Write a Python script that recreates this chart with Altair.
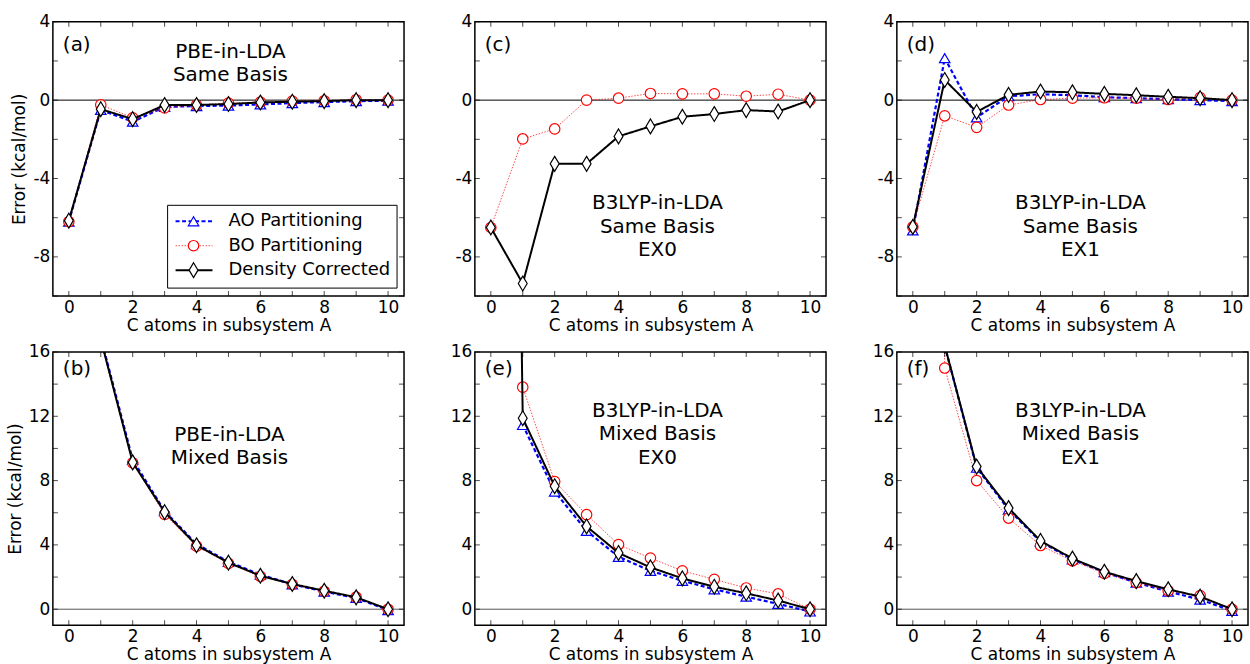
import altair as alt
import pandas as pd

FONT = "DejaVu Sans"
X_ATOMS = list(range(11))
X_LABELS = [0, 2, 4, 6, 8, 10]
TOP_LABELS = [-8, -4, 0, 4]
TOP_TICKS = [-10, -8, -6, -4, -2, 0, 2, 4]
BOT_LABELS = [0, 4, 8, 12, 16]
BOT_TICKS = [0, 2, 4, 6, 8, 10, 12, 14, 16]
SERIES = ["AO Partitioning", "BO Partitioning", "Density Corrected"]

# (a) PBE-in-LDA, same basis
A_AO = [-6.2, -0.5, -1.1, -0.35, -0.3, -0.28, -0.22, -0.15, -0.1, -0.05, -0.03]
A_BO = [-6.2, -0.24, -0.9, -0.4, -0.25, -0.15, -0.1, -0.05, -0.03, 0.02, 0.0]
A_DC = [-6.15, -0.46, -0.97, -0.25, -0.25, -0.2, -0.12, -0.08, -0.05, 0.0, 0.0]
# (c) B3LYP-in-LDA, same basis, EX0
C_AO = [None] * 11
C_BO = [-6.5, -1.98, -1.47, 0.0, 0.1, 0.34, 0.32, 0.32, 0.2, 0.3, 0.0]
C_DC = [-6.5, -9.36, -3.25, -3.25, -1.85, -1.34, -0.85, -0.71, -0.51, -0.58, 0.0]
# (d) B3LYP-in-LDA, same basis, EX1
D_AO = [-6.65, 2.14, -0.88, 0.2, 0.3, 0.25, 0.15, 0.1, 0.05, 0.0, -0.05]
D_BO = [-6.47, -0.8, -1.39, -0.25, 0.03, 0.1, 0.12, 0.1, 0.03, 0.13, 0.0]
D_DC = [-6.47, 1.03, -0.6, 0.27, 0.44, 0.4, 0.32, 0.25, 0.17, 0.1, 0.0]
# (b) PBE-in-LDA, mixed basis
B_AO = [None, 16.9, 9.3, 6.1, 4.05, 2.95, 2.15, 1.55, 1.1, 0.7, -0.05]
B_BO = [None, 16.7, 9.1, 5.9, 3.92, 2.85, 2.05, 1.55, 1.12, 0.75, 0.0]
B_DC = [None, 16.8, 9.13, 6.04, 3.98, 2.9, 2.08, 1.57, 1.15, 0.74, 0.0]
# (e) B3LYP-in-LDA, mixed basis, EX0
E_AO = [None, 11.46, 7.32, 4.87, 3.26, 2.39, 1.77, 1.24, 0.78, 0.33, -0.14]
E_BO = [None, 13.81, 7.94, 5.88, 4.02, 3.18, 2.39, 1.86, 1.32, 0.95, 0.0]
E_DC = [150, 11.88, 7.65, 5.15, 3.5, 2.6, 1.92, 1.4, 0.99, 0.54, 0.0]
# (f) B3LYP-in-LDA, mixed basis, EX1
F_AO = [None, 16.4, 8.8, 6.2, 4.2, 3.1, 2.3, 1.65, 1.1, 0.6, -0.1]
F_BO = [150, 15.0, 8.0, 5.67, 3.96, 3.01, 2.23, 1.65, 1.15, 0.85, 0.0]
F_DC = [None, 16.4, 8.87, 6.29, 4.25, 3.15, 2.33, 1.75, 1.24, 0.78, 0.0]

W, H_TOP, H_BOT = 352, 275, 274

DIAMOND = "M0,-1L0.6,0L0,1L-0.6,0Z"
STYLE = {
    "AO Partitioning": dict(color="#0000ff", width=2.2, dash=[4, 2.5], opacity=1.0,
                            shape="triangle-up", size=110, fill="white", mw=1.2),
    "BO Partitioning": dict(color="#ff0000", width=1.0, dash=[1.5, 1.5], opacity=0.7,
                            shape="circle", size=110, fill="white", mw=1.2),
    "Density Corrected": dict(color="#000000", width=2.0, dash=[1, 0], opacity=1.0,
                              shape=DIAMOND, size=220, fill="white", mw=1.2),
}

lines_x = {"a": 178, "b": 177, "c": 183, "d": 184, "e": 183, "f": 184}


def panel(letter, series_vals, ydom, ylabels, yticks, lines, text_y0, label_y,
          ytitle, height, legend=False, zero_color="black"):
    rows = []
    for name, vals in zip(SERIES, series_vals):
        for xi, v in zip(X_ATOMS, vals):
            if v is not None:
                rows.append({"x": xi, "y": v, "s": name})
    df = pd.DataFrame(rows)
    xscale = alt.Scale(domain=[-0.5, 10.5], nice=False, zero=False)
    yscale = alt.Scale(domain=ydom, nice=False, zero=False)
    xaxis = alt.Axis(values=X_LABELS, title="C atoms in subsystem A",
                     labelExpr="toString(datum.value)")
    yaxis = alt.Axis(values=ylabels, title=ytitle,
                     labelExpr="toString(datum.value)")
    X = alt.X("x:Q", scale=xscale, axis=xaxis)
    Y = alt.Y("y:Q", scale=yscale, axis=yaxis)

    layers = []
    layers.append(alt.Chart(pd.DataFrame({"y": [0]})).mark_rule(
        color=zero_color, strokeWidth=1).encode(y=Y))
    for name in SERIES:
        st = STYLE[name]
        sub = df[df["s"] == name]
        if sub.empty:
            continue
        base = alt.Chart(sub)
        layers.append(base.mark_line(clip=True, color=st["color"], strokeWidth=st["width"],
                                     strokeDash=st["dash"], opacity=st["opacity"]).encode(x=X, y=Y))
        layers.append(base.mark_point(clip=True, shape=st["shape"], size=st["size"], filled=True,
                                      fill=st["fill"], stroke=st["color"], strokeWidth=st["mw"],
                                      opacity=1).encode(x=X, y=Y))
    # inward ticks on all four sides
    xt = alt.Chart(pd.DataFrame({"x": X_ATOMS}))
    yt = alt.Chart(pd.DataFrame({"y": yticks}))
    layers.append(xt.mark_tick(orient="vertical", size=5, thickness=1, color="black").encode(
        x=X, y=alt.value(2.5)))
    layers.append(xt.mark_tick(orient="vertical", size=5, thickness=1, color="black").encode(
        x=X, y=alt.value(height - 2.5)))
    layers.append(yt.mark_tick(orient="horizontal", size=5, thickness=1, color="black").encode(
        y=Y, x=alt.value(2.5)))
    layers.append(yt.mark_tick(orient="horizontal", size=5, thickness=1, color="black").encode(
        y=Y, x=alt.value(W - 2.5)))
    one = alt.Chart(pd.DataFrame({"k": [0]}))
    layers.append(one.mark_text(text=f"({letter})", font=FONT, fontSize=20, align="left",
                                baseline="middle", color="black").encode(
        x=alt.value(10), y=alt.value(label_y)))
    for i, t in enumerate(lines):
        layers.append(one.mark_text(text=t, font=FONT, fontSize=20, align="center",
                                    baseline="middle", color="black").encode(
            x=alt.value(lines_x[letter]), y=alt.value(text_y0 + 23.5 * i)))
    if legend:
        layers.append(one.mark_rect(fill="white", stroke="black", strokeWidth=1).encode(
            x=alt.value(115), x2=alt.value(345), y=alt.value(184), y2=alt.value(267)))
        for i, name in enumerate(SERIES):
            st = STYLE[name]
            yy = 200 + 24.5 * i
            layers.append(one.mark_rule(color=st["color"], strokeWidth=st["width"],
                                        strokeDash=st["dash"], opacity=st["opacity"]).encode(
                x=alt.value(123), x2=alt.value(160), y=alt.value(yy)))
            layers.append(one.mark_point(shape=st["shape"], size=st["size"], filled=True,
                                         fill=st["fill"], stroke=st["color"], strokeWidth=st["mw"],
                                         opacity=1).encode(x=alt.value(141), y=alt.value(yy)))
            layers.append(one.mark_text(text=name, font=FONT, fontSize=18, align="left",
                                        baseline="middle", color="black").encode(
                x=alt.value(176), y=alt.value(yy)))
    return alt.layer(*layers).properties(width=W, height=height)


pa = panel("a", [A_AO, A_BO, A_DC], [-10, 4], TOP_LABELS, TOP_TICKS,
           ["PBE-in-LDA", "Same Basis"], 30, 23, "Error (kcal/mol)", H_TOP, legend=True)
pc = panel("c", [C_AO, C_BO, C_DC], [-10, 4], TOP_LABELS, TOP_TICKS,
           ["B3LYP-in-LDA", "Same Basis", "EX0"], 182, 23, None, H_TOP)
pd_ = panel("d", [D_AO, D_BO, D_DC], [-10, 4], TOP_LABELS, TOP_TICKS,
            ["B3LYP-in-LDA", "Same Basis", "EX1"], 182, 23, None, H_TOP)
pb = panel("b", [B_AO, B_BO, B_DC], [-1, 16], BOT_LABELS, BOT_TICKS,
           ["PBE-in-LDA", "Mixed Basis"], 83, 17, "Error (kcal/mol)", H_BOT, zero_color="#555555")
pe = panel("e", [E_AO, E_BO, E_DC], [-1, 16], BOT_LABELS, BOT_TICKS,
           ["B3LYP-in-LDA", "Mixed Basis", "EX0"], 59, 17, None, H_BOT, zero_color="#555555")
pf = panel("f", [F_AO, F_BO, F_DC], [-1, 16], BOT_LABELS, BOT_TICKS,
           ["B3LYP-in-LDA", "Mixed Basis", "EX1"], 59, 17, None, H_BOT, zero_color="#555555")

chart = alt.concat(pa, pc, pd_, pb, pe, pf, columns=3,
                   spacing=alt.RowColnumber(row=56, column=71), bounds="flush").properties(
    padding={"left": 5, "top": 11, "right": 0, "bottom": 0}
).configure_view(stroke="black", strokeWidth=1.5).configure_axis(
    labelFont=FONT, labelFontSize=17, labelColor="black", labelPadding=3,
    titleFont=FONT, titleFontSize=17, titleColor="black", titleFontWeight="normal",
    titlePadding=2, ticks=False, domain=False, grid=False
).configure_axisY(titlePadding=4)

chart.save("out.html", embed_options={"renderer": "svg", "actions": False})
